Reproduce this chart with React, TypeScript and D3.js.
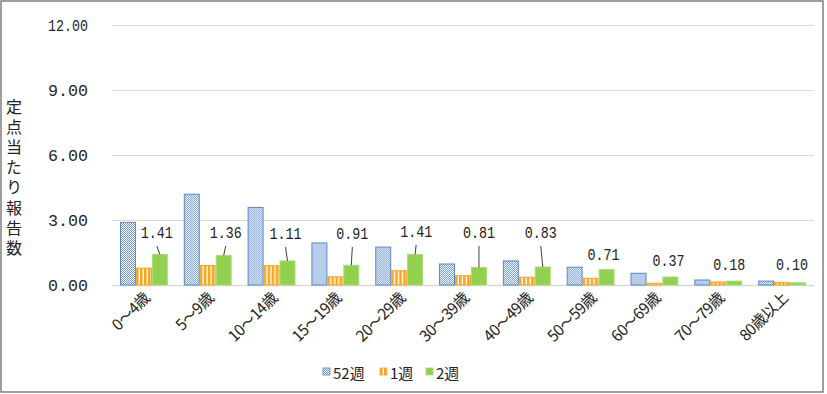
import React, { useEffect, useRef } from "react";
import * as d3 from "d3";

// age groups and per-sentinel counts
const categories = [
  "0～4歳",
  "5～9歳",
  "10～14歳",
  "15～19歳",
  "20～29歳",
  "30～39歳",
  "40～49歳",
  "50～59歳",
  "60～69歳",
  "70～79歳",
  "80歳以上"
];
const seriesNames = ["52週", "1週", "2週"];
const week52 = [2.89, 4.19, 3.58, 1.94, 1.75, 0.97, 1.11, 0.82, 0.54, 0.23, 0.18];
const week1 = [0.78, 0.9, 0.89, 0.38, 0.66, 0.43, 0.36, 0.31, 0.08, 0.14, 0.12];
const week2 = [1.41, 1.36, 1.11, 0.91, 1.41, 0.81, 0.83, 0.71, 0.37, 0.18, 0.1];
const yTicks = [0, 3, 6, 9, 12];
const yTitle = "定点当たり報告数";

// manual label placement (Excel-style dragged labels): dx from bar centre, text baseline
const labelLayout = [
  { dx: -3, y: 238, leader: true },
  { dx: 2, y: 238, leader: true },
  { dx: -2, y: 239, leader: true },
  { dx: 1, y: 239, leader: true },
  { dx: 1, y: 237, leader: true },
  { dx: 0, y: 238, leader: true },
  { dx: -2, y: 238, leader: true },
  { dx: -3, y: 260, leader: false },
  { dx: -2, y: 266, leader: false },
  { dx: -5, y: 270, leader: false },
  { dx: -6, y: 270, leader: false }
];

const width = 827;
const height = 394;

export default function App() {
  const chartRef = useRef(null);

  useEffect(() => {
    document.body.style.margin = "0";
    const svg = d3.select(chartRef.current);
    const margin = { top: 25, right: 13, bottom: 109, left: 112 };
    const mono = "'Liberation Mono', 'DejaVu Sans Mono', monospace";
    const jp = "'Noto Sans CJK JP', sans-serif";

    const data = categories.map((c, i) => ({
      cat: c,
      values: [week52[i], week1[i], week2[i]]
    }));

    const y = d3
      .scaleLinear()
      .domain([0, 12])
      .range([height - margin.bottom, margin.top]);

    const x0 = d3
      .scaleBand()
      .domain(categories)
      .range([margin.left, width - margin.right])
      .padding(0);

    const bw = x0.bandwidth();
    const x1 = d3
      .scaleBand()
      .domain(seriesNames)
      .range([bw / 8, (bw * 7) / 8])
      .padding(0);

    // patterns
    const defs = svg.append("defs");
    const checker = defs
      .append("pattern")
      .attr("id", "pat-52")
      .attr("patternUnits", "userSpaceOnUse")
      .attr("width", 2)
      .attr("height", 2);
    checker.append("rect").attr("width", 2).attr("height", 2).attr("fill", "#ffffff");
    checker.append("rect").attr("width", 1).attr("height", 1).attr("fill", "#6f9bd3");
    checker.append("rect").attr("x", 1).attr("y", 1).attr("width", 1).attr("height", 1).attr("fill", "#6f9bd3");

    const stripes = defs
      .append("pattern")
      .attr("id", "pat-1")
      .attr("patternUnits", "userSpaceOnUse")
      .attr("width", 4)
      .attr("height", 4);
    stripes.append("rect").attr("width", 4).attr("height", 4).attr("fill", "#ffffff");
    stripes.append("rect").attr("width", 2.6).attr("height", 4).attr("fill", "#f5a623");

    const fills = ["url(#pat-52)", "url(#pat-1)", "#92d050"];
    const strokes = ["#5b86c9", "#f5a623", "#a9dc7a"];

    // border
    svg
      .append("rect")
      .attr("x", 1)
      .attr("y", 1)
      .attr("width", 822)
      .attr("height", 391)
      .attr("fill", "#fff")
      .attr("stroke", "#7f7f7f")
      .attr("stroke-width", 1.5);

    // grid
    svg
      .append("g")
      .selectAll("line")
      .data(yTicks)
      .join("line")
      .attr("x1", margin.left)
      .attr("x2", width - margin.right)
      .attr("y1", d => y(d) + 0.5)
      .attr("y2", d => y(d) + 0.5)
      .attr("stroke", "#d9d9d9")
      .attr("stroke-width", d => (d === 0 ? 1.5 : 1));

    svg
      .append("g")
      .selectAll("text")
      .data(yTicks)
      .join("text")
      .attr("x", 88)
      .attr("y", d => y(d) + 6)
      .attr("text-anchor", "end")
      .attr("font-family", mono)
      .attr("font-size", 16)
      .attr("textLength", 40)
      .attr("lengthAdjust", "spacingAndGlyphs")
      .attr("fill", "#262626")
      .text(d => d3.format(".2f")(d));

    // y title, vertical writing
    svg
      .append("text")
      .attr("x", 14)
      .attr("y", 99)
      .attr("writing-mode", "vertical-rl")
      .attr("text-orientation", "upright")
      .attr("letter-spacing", 4.1)
      .attr("font-family", jp)
      .attr("font-size", 16)
      .attr("fill", "#222")
      .text(yTitle);

    // bars
    svg
      .append("g")
      .selectAll("g")
      .data(data)
      .join("g")
      .attr("transform", d => `translate(${x0(d.cat)},0)`)
      .selectAll("rect")
      .data(d => d.values.map((v, k) => ({ key: seriesNames[k], k, v })))
      .join("rect")
      .attr("x", d => x1(d.key) + 0.5)
      .attr("y", d => y(d.v))
      .attr("width", x1.bandwidth() - 1)
      .attr("height", d => y(0) - y(d.v))
      .attr("fill", d => fills[d.k])
      .attr("stroke", d => strokes[d.k])
      .attr("stroke-width", 1);

    // data labels for 2週
    const cx = i => x0(categories[i]) + x1("2週") + x1.bandwidth() / 2;
    const labels = svg.append("g");
    week2.forEach((v, i) => {
      const lay = labelLayout[i];
      const lx = cx(i) + lay.dx;
      if (lay.leader) {
        labels
          .append("line")
          .attr("x1", lx)
          .attr("y1", lay.y + 8)
          .attr("x2", cx(i))
          .attr("y2", y(v))
          .attr("stroke", "#404040")
          .attr("stroke-width", 1);
      }
      labels
        .append("text")
        .attr("x", lx)
        .attr("y", lay.y)
        .attr("text-anchor", "middle")
        .attr("font-family", mono)
        .attr("font-size", 16)
        .attr("textLength", 32)
        .attr("lengthAdjust", "spacingAndGlyphs")
        .attr("fill", "#222")
        .text(d3.format(".2f")(v));
    });

    // x labels rotated
    svg
      .append("g")
      .selectAll("text")
      .data(categories)
      .join("text")
      .attr(
        "transform",
        d => `translate(${x0(d) + bw / 2 + 7},${299}) rotate(-45)`
      )
      .attr("text-anchor", "end")
      .attr("font-family", jp)
      .attr("font-size", 15.5)
      .attr("letter-spacing", -0.6)
      .attr("fill", "#222")
      .text(d => d);

    // legend
    const legendItems = [
      { name: seriesNames[0], x: 323, tx: 333 },
      { name: seriesNames[1], x: 380, tx: 390 },
      { name: seriesNames[2], x: 426, tx: 436 }
    ];
    const lg = svg.append("g");
    legendItems.forEach((d, k) => {
      lg.append("rect")
        .attr("x", d.x)
        .attr("y", 368)
        .attr("width", 7)
        .attr("height", 7)
        .attr("fill", fills[k])
        .attr("stroke", strokes[k])
        .attr("stroke-width", 0.8);
      lg.append("text")
        .attr("x", d.tx)
        .attr("y", 378.5)
        .attr("font-family", jp)
        .attr("font-size", 15)
        .attr("fill", "#222")
        .text(d.name);
    });

    return () => {
      svg.html("");
    };
  }, []);

  return <svg ref={chartRef} width={width} height={height} style={{ display: "block" }} />;
}
